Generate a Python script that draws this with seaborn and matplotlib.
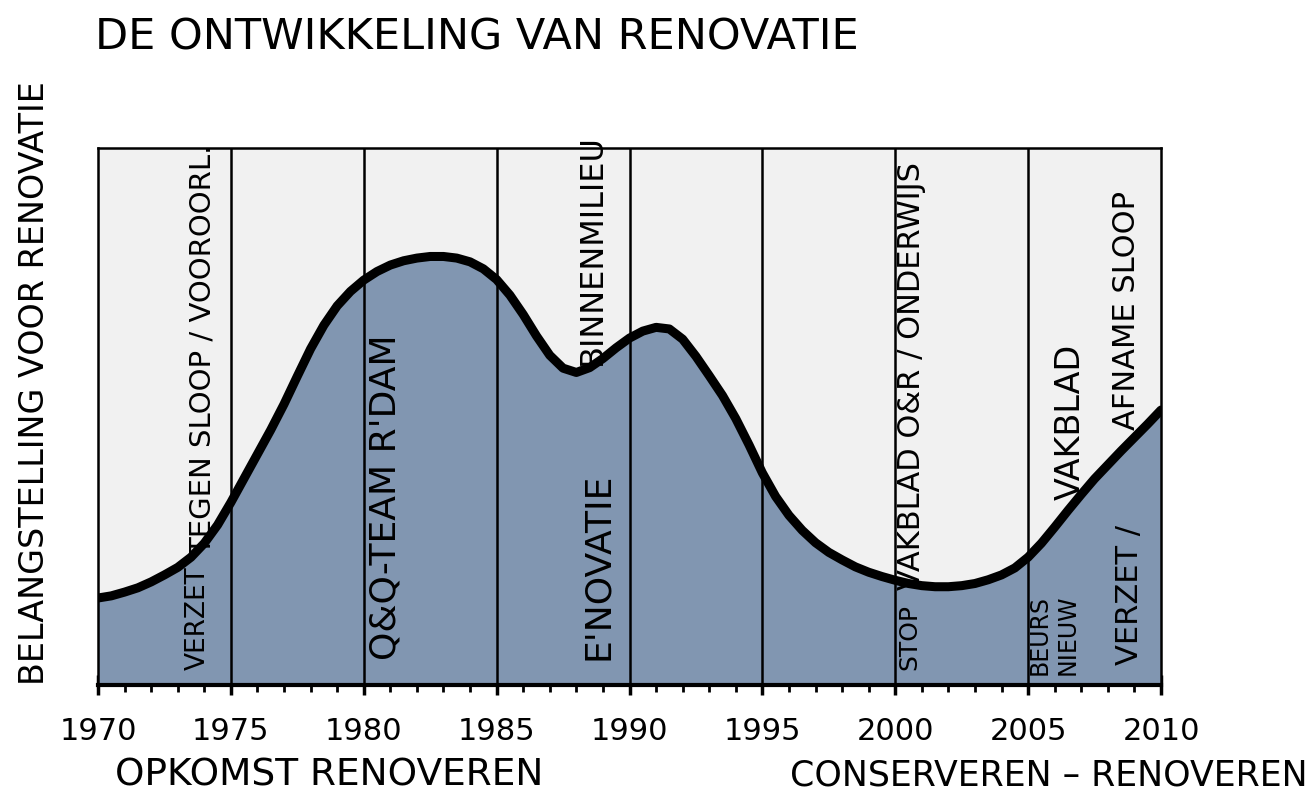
import matplotlib
matplotlib.use("Agg")
import matplotlib.pyplot as plt
import seaborn as sns
import numpy as np

# ---- data ----
years = [1970, 1970.5, 1971, 1971.5, 1972, 1972.5, 1973, 1973.5, 1974, 1974.5,
         1975, 1975.5, 1976, 1976.5, 1977, 1977.5, 1978, 1978.5, 1979, 1979.5,
         1980, 1980.5, 1981, 1981.5, 1982, 1982.5, 1983, 1983.5, 1984, 1984.5,
         1985, 1985.5, 1986, 1986.5, 1987, 1987.5, 1988, 1988.5, 1989, 1989.5,
         1990, 1990.5, 1991, 1991.5, 1992, 1992.5, 1993, 1993.5, 1994, 1994.5,
         1995, 1995.5, 1996, 1996.5, 1997, 1997.5, 1998, 1998.5, 1999, 1999.5,
         2000, 2000.5, 2001, 2001.5, 2002, 2002.5, 2003, 2003.5, 2004, 2004.5,
         2005, 2005.5, 2006, 2006.5, 2007, 2007.5, 2008, 2008.5, 2009, 2009.5,
         2010]
interest = [16.2, 16.6, 17.3, 18.1, 19.2, 20.5, 21.9, 23.8, 26.4, 29.8,
            34.0, 38.5, 43.0, 47.5, 52.3, 57.5, 62.6, 67.0, 70.6, 73.3,
            75.4, 77.0, 78.2, 79.0, 79.5, 79.8, 79.8, 79.5, 78.8, 77.5,
            75.5, 72.6, 69.0, 65.0, 61.4, 59.0, 58.2, 59.1, 60.8, 62.8,
            64.6, 65.9, 66.6, 66.3, 64.4, 61.2, 57.6, 53.9, 49.6, 44.7,
            39.5, 35.1, 31.6, 28.8, 26.5, 24.7, 23.3, 22.0, 21.0, 20.2,
            19.5, 18.9, 18.5, 18.3, 18.3, 18.5, 18.9, 19.6, 20.5, 21.8,
            23.8, 26.4, 29.4, 32.5, 35.5, 38.4, 41.0, 43.6, 46.1, 48.6,
            51.2]
period_bounds = [1975, 1980, 1985, 1990, 1995, 2000, 2005]
tick_years = [1970, 1975, 1980, 1985, 1990, 1995, 2000, 2005, 2010]
tick_labels = [str(y) for y in tick_years]

title = "DE ONTWIKKELING VAN RENOVATIE"
ylabel = "BELANGSTELLING VOOR RENOVATIE"
left_caption = "OPKOMST RENOVEREN"
right_caption = "CONSERVEREN – RENOVEREN"

notes = ["VERZET", "TEGEN SLOOP / VOOROORL.", "Q&Q-TEAM R'DAM", "BINNENMILIEU",
         "E'NOVATIE", "STOP", "VAKBLAD O&R / ONDERWIJS", "BEURS", "NIEUW",
         "VAKBLAD", "VERZET /", "AFNAME SLOOP"]
# placement of each note (x year, bottom value, font size)
note_x = [1973.76, 1973.95, 1980.8, 1988.6, 1988.8, 2000.55, 2000.63, 2005.45, 2006.5,
          2006.58, 2008.83, 2008.72]
note_y = [2.8, 24.2, 4.7, 59.6, 4.7, 2.8, 17.7, 1.9, 1.9, 34.5, 3.7, 47.5]
note_fs = [19, 21, 26, 23, 26, 18, 22, 17, 17, 24, 22, 22]

# ---- style ----
sns.set_theme(style="white")
plt.rcParams['font.family'] = ['DejaVu Sans']

fill_color = "#8196b1"
panel_color = "#f1f1f1"

fig = plt.figure(figsize=(13.14, 7.99), dpi=100)
fig.patch.set_facecolor("white")
ax = fig.add_axes([98/1314, 114/799, 1063/1314, 537/799])
ax.set_facecolor(panel_color)

ax.fill_between(years, interest, 0, color=fill_color, zorder=1, linewidth=0)
sns.lineplot(x=years, y=interest, ax=ax, color="black", linewidth=6.5, zorder=4,
             solid_joinstyle="round", solid_capstyle="round", sort=False)

for b in period_bounds:
    ax.axvline(b, color="black", linewidth=1.8, zorder=3)

ax.set_xlim(1970, 2010)
ax.set_ylim(0, 100)

for side in ["top", "left", "right"]:
    ax.spines[side].set_visible(True)
    ax.spines[side].set_color("black")
    ax.spines[side].set_linewidth(1.8)
ax.spines["bottom"].set_color("black")
ax.spines["bottom"].set_linewidth(3)
ax.spines["bottom"].set_zorder(5)

ax.set_yticks([])
ax.set_xticks(tick_years)
ax.set_xticklabels(tick_labels)
ax.set_xticks(np.arange(1970, 2011, 1), minor=True)
ax.tick_params(axis="x", which="major", direction="inout", length=14, width=2.5,
               color="black", labelcolor="black", labelsize=22, pad=16, bottom=True)
ax.tick_params(axis="x", which="minor", direction="inout", length=10, width=2,
               color="black", bottom=True)
ax.set_xlabel("")
ax.set_ylabel("")

for txt, x, y, fs in zip(notes, note_x, note_y, note_fs):
    ax.text(x, y, txt, rotation=90, ha="center", va="bottom", fontsize=fs,
            color="black", zorder=6, clip_on=False)

fig.text(95/1314, 1 - 38/799, title, ha="left", va="center", fontsize=31, color="black")
fig.text(35/1314, 1 - 383/799, ylabel, ha="center", va="center", rotation=90,
         fontsize=24, color="black")
fig.text(115/1314, 1 - 775/799, left_caption, ha="left", va="center", fontsize=27,
         color="black")
fig.text(1308/1314, 1 - 775/799, right_caption, ha="right", va="center", fontsize=25,
         color="black")

fig.savefig("out.png", dpi=100, facecolor="white")
